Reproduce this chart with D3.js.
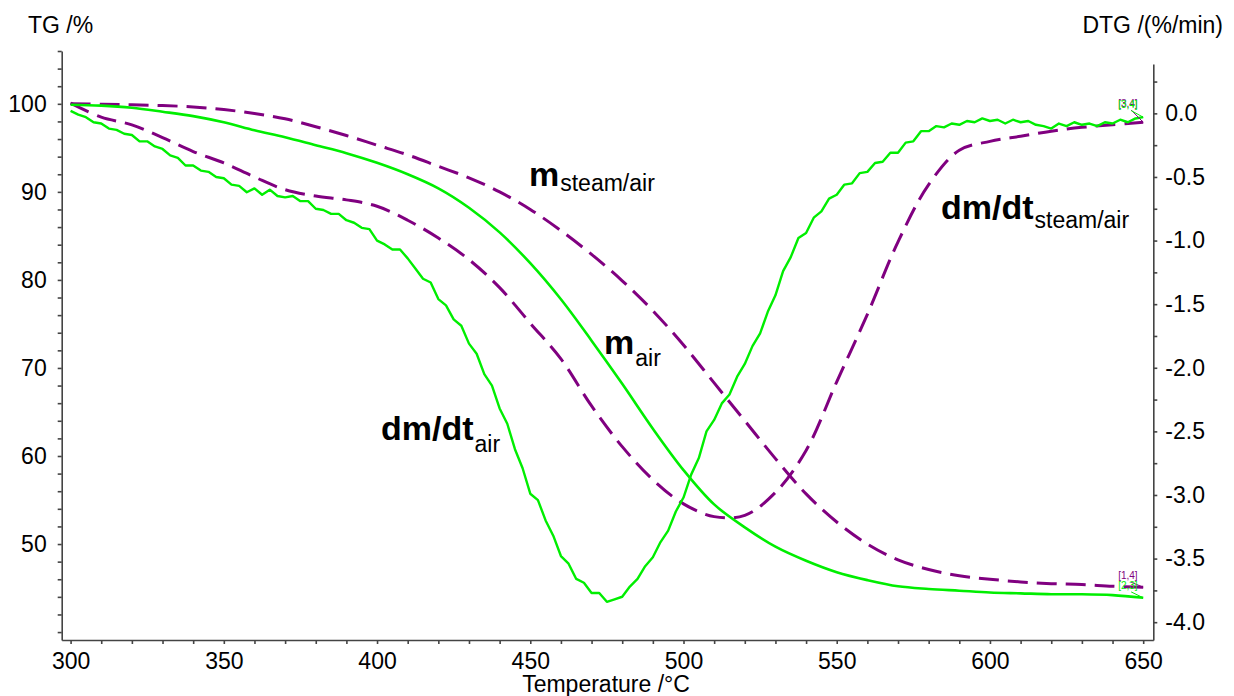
<!DOCTYPE html>
<html>
<head>
<meta charset="utf-8">
<script src="https://cdn.jsdelivr.net/npm/d3@7"></script>
<style>
  body { margin: 0; background: #fff; }
  svg { display: block; font-family: "Liberation Sans", Arial, sans-serif; }
  .axis path, .axis line { stroke: #444; stroke-width: 1.6; }
  .axis text { font-size: 23px; fill: #000; font-family: "Liberation Sans", Arial, sans-serif; }
</style>
</head>
<body>
<div id="chart"></div>
<script>
// TG curves, read every 10 °C
const tgTemps = [300, 310, 320, 330, 340, 350, 360, 370, 380, 390, 400, 410, 420, 430, 440, 450, 460, 470,
  480, 490, 500, 510, 520, 530, 540, 550, 560, 570, 580, 590, 600, 610, 620, 630, 640, 650];
const massSteamAir = [100.0, 99.95, 99.9, 99.8, 99.65, 99.35, 98.9, 98.3, 97.4, 96.4, 95.3, 94.2, 92.9, 91.6,
  90.0, 88.0, 85.6, 82.9, 79.9, 76.5, 72.6, 68.3, 64.0, 59.7, 55.7, 52.5, 50.0, 48.2, 47.1, 46.4, 46.0,
  45.7, 45.5, 45.4, 45.2, 45.1];
const massAir = [99.9, 99.8, 99.55, 99.1, 98.6, 97.9, 97.0, 96.2, 95.3, 94.4, 93.3, 92.0, 90.4, 88.2, 85.4,
  81.9, 77.8, 73.1, 68.2, 63.1, 58.4, 54.5, 51.9, 49.7, 48.1, 46.8, 45.9, 45.2, 44.9, 44.7, 44.5, 44.4,
  44.3, 44.3, 44.2, 43.9];

// DTG steam/air, read every 10 °C
const dtgSteamAir = [0.08, -0.03, -0.09, -0.19, -0.30, -0.39, -0.50, -0.60, -0.65, -0.68, -0.73, -0.84,
  -0.98, -1.15, -1.37, -1.65, -1.93, -2.30, -2.62, -2.88, -3.07, -3.17, -3.16, -2.98, -2.65, -2.11, -1.58,
  -1.01, -0.56, -0.29, -0.22, -0.18, -0.14, -0.11, -0.09, -0.07];

// DTG air (noisy signal), read every 2.5 °C from 300 to 650
const dtgAirTemps = d3.range(300, 650.1, 2.5);
const dtgAir = [
  0.02, -0.01, -0.03, -0.07, -0.08, -0.12, -0.13, -0.16, -0.17, -0.22,
  -0.22, -0.26, -0.28, -0.33, -0.35, -0.41, -0.41, -0.45, -0.46, -0.50,
  -0.51, -0.56, -0.57, -0.62, -0.59, -0.64, -0.60, -0.65, -0.66, -0.65,
  -0.69, -0.69, -0.75, -0.76, -0.79, -0.79, -0.84, -0.86, -0.90, -0.91,
  -1.00, -1.03, -1.07, -1.07, -1.14, -1.22, -1.30, -1.33, -1.46, -1.51,
  -1.62, -1.67, -1.81, -1.89, -2.05, -2.14, -2.32, -2.44, -2.64, -2.79,
  -2.99, -3.04, -3.20, -3.32, -3.48, -3.54, -3.66, -3.69, -3.77, -3.77,
  -3.84, -3.82, -3.80, -3.72, -3.66, -3.56, -3.49, -3.37, -3.28, -3.13,
  -3.02, -2.84, -2.71, -2.50, -2.41, -2.28, -2.21, -2.07, -1.97, -1.83,
  -1.73, -1.56, -1.43, -1.24, -1.13, -0.98, -0.94, -0.82, -0.77, -0.67,
  -0.64, -0.56, -0.55, -0.47, -0.46, -0.39, -0.38, -0.31, -0.31, -0.23,
  -0.22, -0.14, -0.14, -0.10, -0.11, -0.08, -0.09, -0.06, -0.07, -0.04,
  -0.06, -0.05, -0.08, -0.05, -0.07, -0.06, -0.09, -0.10, -0.12, -0.08,
  -0.10, -0.07, -0.09, -0.08, -0.10, -0.07, -0.08, -0.05, -0.07, -0.04,
  -0.03];

const xTicks = d3.range(300, 651, 10);
const tgTicks = d3.range(40, 107, 2);
const dtgTicks = d3.range(-16, 2).map(i => i / 4);

const GREEN = '#00ee00';
const PURPLE = '#800080';

const width = 1234, height = 696;
const svg = d3.select('#chart').append('svg')
  .attr('width', width).attr('height', height);

const x = d3.scaleLinear().domain([297.1, 653.3]).range([61.7, 1153.3]);
const yL = d3.scaleLinear().domain([39.1, 106]).range([640, 51]);
const yR = d3.scaleLinear().domain([-4.14, 0.388]).range([640, 64]);

// axes
svg.append('g').attr('class', 'axis')
  .attr('transform', 'translate(0,640)')
  .call(d3.axisBottom(x).tickValues(xTicks).tickSize(4).tickSizeOuter(0).tickPadding(9)
    .tickFormat(d => d % 50 === 0 ? d : ''));

svg.append('g').attr('class', 'axis')
  .attr('transform', 'translate(61.7,0)')
  .call(d3.axisLeft(yL).tickValues(tgTicks).tickSize(4).tickSizeOuter(0).tickPadding(11)
    .tickFormat(d => (d % 10 === 0 && d >= 50) ? d : ''));

svg.append('g').attr('class', 'axis')
  .attr('transform', 'translate(1153.3,0)')
  .call(d3.axisRight(yR).tickValues(dtgTicks).tickSize(4).tickSizeOuter(0).tickPadding(8)
    .tickFormat((d, i) => (i % 2 === 0) ? d.toFixed(1) : ''));

// axis titles
svg.append('text').attr('x', 28).attr('y', 33).style('font-size', '23px').text('TG /%');
svg.append('text').attr('x', 1223).attr('y', 33).attr('text-anchor', 'end')
  .style('font-size', '23px').text('DTG /(%/min)');
svg.append('text').attr('x', 606).attr('y', 692).attr('text-anchor', 'middle')
  .style('font-size', '23px').text('Temperature /°C');

// curves
const smooth = d3.curveCatmullRom.alpha(0.5);
const lineL = d3.line().x(d => x(d[0])).y(d => yL(d[1])).curve(smooth);
const lineR = d3.line().x(d => x(d[0])).y(d => yR(d[1])).curve(smooth);
const lineRaw = d3.line().x(d => x(d[0])).y(d => yR(d[1]));

const plot = svg.append('g').attr('fill', 'none');

plot.append('path')
  .attr('d', lineL(d3.zip(tgTemps, massSteamAir)))
  .attr('stroke', PURPLE).attr('stroke-width', 3).attr('stroke-dasharray', '20,9');
plot.append('path')
  .attr('d', lineR(d3.zip(tgTemps, dtgSteamAir)))
  .attr('stroke', PURPLE).attr('stroke-width', 3).attr('stroke-dasharray', '20,9');
plot.append('path')
  .attr('d', lineL(d3.zip(tgTemps, massAir)))
  .attr('stroke', GREEN).attr('stroke-width', 2.6);
plot.append('path')
  .attr('d', lineRaw(d3.zip(dtgAirTemps, dtgAir)))
  .attr('stroke', GREEN).attr('stroke-width', 2.4).attr('stroke-linejoin', 'round');

// curve labels
function label(px, py, main, sub, subDy) {
  const t = svg.append('text').attr('x', px).attr('y', py).style('fill', '#000');
  t.append('tspan').style('font-size', '34px').style('font-weight', 'bold').text(main);
  t.append('tspan').attr('dy', subDy).attr('dx', 1).style('font-size', '23px').text(sub);
}
label(529, 186, 'm', 'steam/air', 5);
label(604, 354, 'm', 'air', 12);
label(381, 440, 'dm/dt', 'air', 12);
label(941, 219, 'dm/dt', 'steam/air', 9);

// end markers of the curves
const endX = x(650);
function marker(ty, txt, color, toY) {
  svg.append('text').attr('x', endX - 25).attr('y', ty).style('font-size', '10px')
    .style('fill', color).text(txt);
  svg.append('line').attr('x1', endX - 12).attr('y1', ty + 3).attr('x2', endX).attr('y2', toY)
    .attr('stroke', color).attr('stroke-width', 1);
}
marker(yR(0.05), '[3,4]', PURPLE, yR(dtgSteamAir[35]));
marker(yR(0.05) + 0.6, '[3,4]', GREEN, yR(dtgAir[dtgAir.length - 1]));
marker(yL(46.0), '[1,4]', PURPLE, yL(massSteamAir[35]));
marker(yL(44.9), '[2,3]', GREEN, yL(massAir[35]));
</script>
</body>
</html>
